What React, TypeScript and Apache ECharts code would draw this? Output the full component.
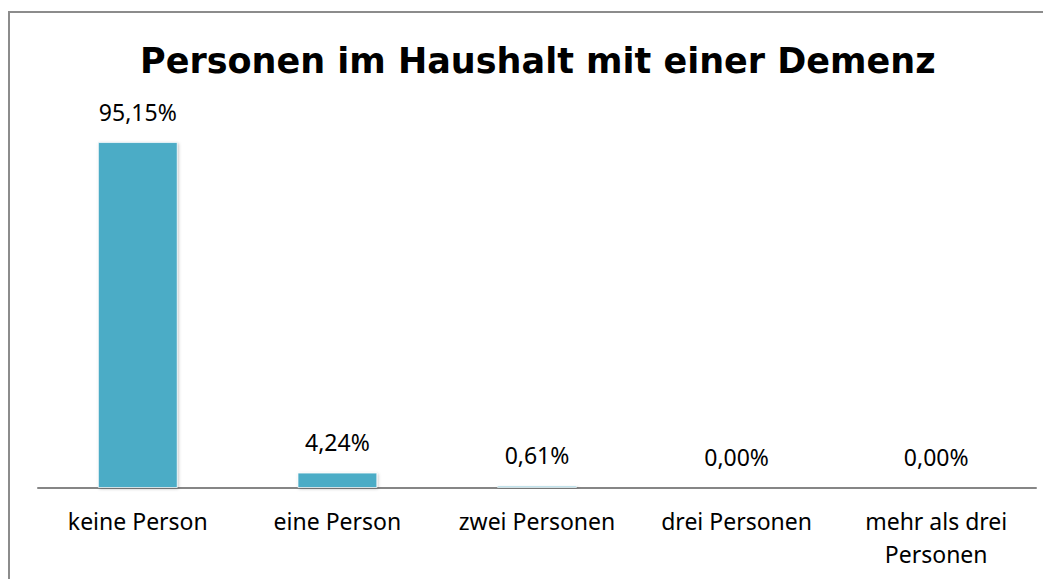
import React, { useEffect, useRef } from "react";
import * as echarts from "echarts";

const titleText = "Personen im Haushalt mit einer Demenz";
const categories = ["keine Person", "eine Person", "zwei Personen", "drei Personen", "mehr als drei\nPersonen"];
const values = [95.15, 4.24, 0.61, 0.0, 0.0];

const FONT = "'Noto Sans', sans-serif";
const TITLE_FONT = "'DejaVu Sans', sans-serif";

export default function App() {
  const ref = useRef<HTMLDivElement>(null);
  useEffect(() => {
    if (!ref.current) return;
    const chart = echarts.init(ref.current, undefined, { renderer: "svg" });
    chart.setOption({
      animation: false,
      backgroundColor: "#ffffff",
      title: {
        text: titleText,
        left: 127,
        top: 30,
        textStyle: { fontFamily: TITLE_FONT, fontSize: 35, fontWeight: "bold", color: "#000000" },
      },
      graphic: [
        {
          type: "rect",
          shape: { x: 1, y: 4, width: 1200, height: 1000 },
          style: { fill: "none", stroke: "#8c8c8c", lineWidth: 2 },
          silent: true,
        },
      ],
      grid: { left: 30, right: 15, top: 116.4, bottom: 91, containLabel: false },
      xAxis: {
        type: "category",
        data: categories,
        axisLine: { show: true, lineStyle: { color: "#868686", width: 2 } },
        axisTick: { show: false },
        axisLabel: {
          interval: 0,
          fontFamily: FONT,
          fontSize: 23,
          lineHeight: 33,
          color: "#000000",
          margin: 16,
        },
      },
      yAxis: {
        type: "value",
        min: 0,
        max: 100,
        show: false,
        splitLine: { show: false },
      },
      series: [
        {
          type: "bar",
          data: values,
          barWidth: "40%",
          itemStyle: {
            color: "#4BACC6",
            borderColor: "rgba(255,255,255,0.7)",
            borderWidth: 1,
            shadowColor: "rgba(0,0,0,0.25)",
            shadowBlur: 3,
            shadowOffsetX: 1,
            shadowOffsetY: 1,
          },
          label: {
            show: true,
            position: "top",
            distance: 19,
            fontFamily: FONT,
            fontSize: 23,
            color: "#000000",
            formatter: (p: any) => p.value.toFixed(2).replace(".", ",") + "%",
          },
        },
      ],
    });
    return () => chart.dispose();
  }, []);
  return <div ref={ref} style={{ width: 1043, height: 571 }} />;
}
